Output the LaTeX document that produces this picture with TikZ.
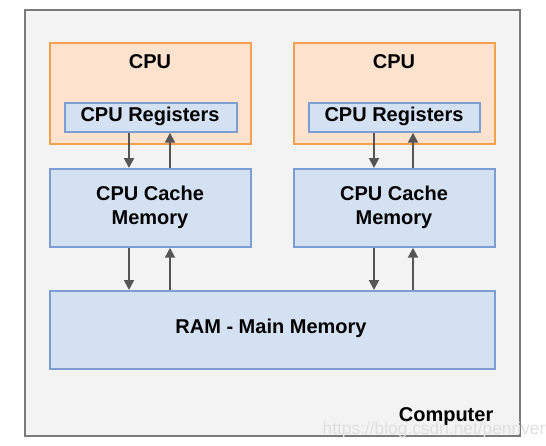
\documentclass[tikz,border=0pt]{standalone}
\usepackage{fontspec}
\setmainfont{Liberation Sans}
\usetikzlibrary{arrows.meta}
\definecolor{outerfill}{HTML}{F3F3F3}
\definecolor{outerline}{HTML}{7A7A7A}
\definecolor{cpufill}{HTML}{FDE2CE}
\definecolor{cpuline}{HTML}{F2A24E}
\definecolor{memfill}{HTML}{D3E1F2}
\definecolor{memline}{HTML}{7D9ED2}
\definecolor{arrowc}{HTML}{555555}
\begin{document}
\begin{tikzpicture}[x=0.75pt,y=-0.75pt,
  box/.style={draw, line width=1.3pt, inner sep=0pt, anchor=north west},
  cpubox/.style={box, draw=cpuline, fill=cpufill},
  membox/.style={box, draw=memline, fill=memfill},
  lbl/.style={font=\bfseries\fontsize{15pt}{18pt}\selectfont, align=center, text=black},
  link/.style={draw=arrowc, line width=1.5pt, -{Triangle[width=7.5pt,length=7.5pt]}}]
\useasboundingbox (0,0) rectangle (546,446);
\node[box, draw=outerline, fill=outerfill, line width=1.5pt, minimum width=495*0.75pt, minimum height=426*0.75pt] (comp) at (24,9) {};
% CPU 1
\node[cpubox, minimum width=201*0.75pt, minimum height=101*0.75pt] (cpu1) at (49,42) {};
\node[lbl] (cpu1t) at (150,62) {CPU};
\node[membox, minimum width=172*0.75pt, minimum height=29*0.75pt] (reg1) at (64,102) {};
\node[lbl] (reg1t) at (150,116) {CPU Registers};
\node[membox, minimum width=201*0.75pt, minimum height=78*0.75pt] (cache1) at (49,168) {};
\node[lbl] (cache1t) at (150,207) {CPU Cache\\Memory};
% CPU 2
\node[cpubox, minimum width=201*0.75pt, minimum height=101*0.75pt] (cpu2) at (293,42) {};
\node[lbl] (cpu2t) at (394,62) {CPU};
\node[membox, minimum width=171*0.75pt, minimum height=29*0.75pt] (reg2) at (308,102) {};
\node[lbl] (reg2t) at (394,116) {CPU Registers};
\node[membox, minimum width=201*0.75pt, minimum height=78*0.75pt] (cache2) at (293,168) {};
\node[lbl] (cache2t) at (394,207) {CPU Cache\\Memory};
% RAM
\node[membox, minimum width=445*0.75pt, minimum height=78*0.75pt] (ram) at (49,290) {};
\node[lbl] (ramt) at (271,328) {RAM - Main Memory};
% label
\node[lbl, anchor=base east] (compt) at (498,421) {Computer};
\node[anchor=base west, text=white!75!gray, font=\fontsize{13pt}{15pt}\selectfont] (wm) at (318,434) {https://blog.csdn.net/penriver};
% arrows
\draw[link] (reg1.south -| 129,0) -- (cache1.north -| 129,0);
\draw[link] (cache1.north -| 170,0) -- (reg1.south -| 170,0);
\draw[link] (reg2.south -| 374,0) -- (cache2.north -| 374,0);
\draw[link] (cache2.north -| 413,0) -- (reg2.south -| 413,0);
\draw[link] (cache1.south -| 129,0) -- (ram.north -| 129,0);
\draw[link] (ram.north -| 170,0) -- (cache1.south -| 170,0);
\draw[link] (cache2.south -| 374,0) -- (ram.north -| 374,0);
\draw[link] (ram.north -| 413,0) -- (cache2.south -| 413,0);
\end{tikzpicture}
\end{document}
